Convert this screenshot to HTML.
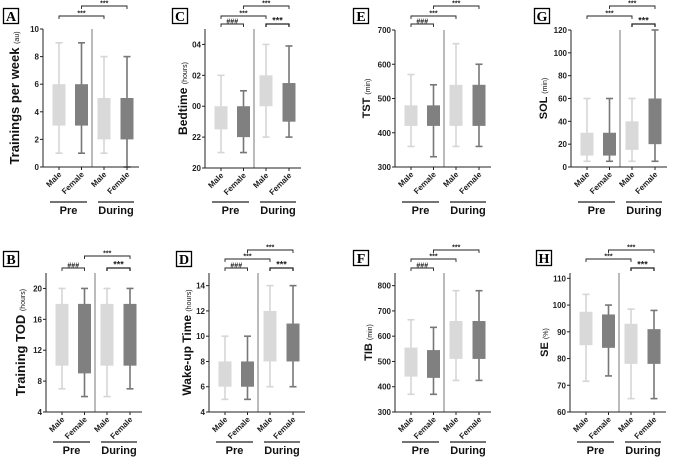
<!DOCTYPE html>
<html><head><meta charset="utf-8"><style>
html,body{margin:0;padding:0;background:#fff}
svg{display:block;font-family:"Liberation Sans",Arial,sans-serif}
</style></head><body>
<svg id="c" width="676" height="461" viewBox="0 0 676 461"></svg>
<script>
const groups = ["Male","Female","Male","Female"];
const phases = ["Pre","During"];
// [min,q1,q3,max] for each group
const A_vals = [[1,3,6,9],[1,3,6,9],[1,2,5,8],[0,2,5,8]];
const C_vals = [[1,2.5,4,6],[1,2,4,5],[2,4,6,8],[2,3,5.5,7.9]];
const E_vals = [[360,420,480,570],[330,420,480,540],[360,420,540,660],[360,420,540,600]];
const G_vals = [[5,10,30,60],[5,10,30,60],[5,15,40,60],[5,20,60,120]];
const B_vals = [[7,10,18,20],[6,9,18,20],[6,10,18,20],[7,10,18,20]];
const D_vals = [[5,6,8,10],[5,6,8,10],[6,8,12,14],[6,8,11,14]];
const F_vals = [[370,440,555,665],[370,435,545,635],[425,510,660,780],[425,510,660,780]];
const H_vals = [[71.5,85,97.5,104],[73.5,84,96.5,100],[65,78,93,98.5],[65,78,91,98]];
const A_ticks = [0,2,4,6,8,10], A_tickLabels = ["0","2","4","6","8","10"];
const C_ticks = [0,2,4,6,8], C_tickLabels = ["20","22","00","02","04"];
const E_ticks = [300,400,500,600,700], E_tickLabels = ["300","400","500","600","700"];
const G_ticks = [0,20,40,60,80,100,120], G_tickLabels = ["0","20","40","60","80","100","120"];
const B_ticks = [4,8,12,16,20], B_tickLabels = ["4","8","12","16","20"];
const D_ticks = [4,6,8,10,12,14], D_tickLabels = ["4","6","8","10","12","14"];
const F_ticks = [300,400,500,600,700,800], F_tickLabels = ["300","400","500","600","700","800"];
const H_ticks = [60,70,80,90,100,110], H_tickLabels = ["60","70","80","90","100","110"];

const panels = [
 {id:"A",vals:A_vals,ticks:A_ticks,tl:A_tickLabels,min:0,max:10,ax:43,top:29,bot:167,lx:3,ly:8,title:"Trainings per week",unit:"(au)",tx:19,fs:13,ph:35,
  br:[[0,2,16,"***",0],[1,3,6,"***",0]]},
 {id:"C",vals:C_vals,ticks:C_ticks,tl:C_tickLabels,min:0,max:9,ax:205,top:29,bot:168,lx:172,ly:8,title:"Bedtime",unit:"(hours)",tx:187,fs:12,ph:34,
  br:[[0,1,24,"###",0],[0,2,16,"***",0],[1,3,6,"***",0],[2,3,24,"***",1]]},
 {id:"E",vals:E_vals,ticks:E_ticks,tl:E_tickLabels,min:300,max:700,ax:395,top:30,bot:167,lx:353,ly:8,title:"TST",unit:"(min)",tx:370,fs:11,ph:35,
  br:[[0,1,24,"###",0],[0,2,16,"***",0],[1,3,6,"***",0]]},
 {id:"G",vals:G_vals,ticks:G_ticks,tl:G_tickLabels,min:0,max:120,ax:571,top:30,bot:167,lx:534,ly:8,title:"SOL",unit:"(min)",tx:547,fs:11,ph:35,
  br:[[0,2,16,"***",0],[1,3,6,"***",0],[2,3,24,"***",1]]},
 {id:"B",vals:B_vals,ticks:B_ticks,tl:B_tickLabels,min:4,max:22,ax:46,top:273,bot:412,lx:3,ly:251,title:"Training TOD",unit:"(hours)",tx:25,fs:13,ph:30,
  br:[[0,1,268,"###",0],[1,3,256,"***",0],[2,3,268,"***",1]]},
 {id:"D",vals:D_vals,ticks:D_ticks,tl:D_tickLabels,min:4,max:15,ax:209,top:273,bot:412,lx:176,ly:251,title:"Wake-up Time",unit:"(hours)",tx:191,fs:12,ph:30,
  br:[[0,1,268,"###",0],[0,2,259,"***",0],[1,3,250,"***",0],[2,3,268,"***",1]]},
 {id:"F",vals:F_vals,ticks:F_ticks,tl:F_tickLabels,min:300,max:850,ax:395,top:273,bot:412,lx:353,ly:250,title:"TIB",unit:"(min)",tx:372,fs:11,ph:30,
  br:[[0,1,268,"###",0],[0,2,259,"***",0],[1,3,250,"***",0]]},
 {id:"H",vals:H_vals,ticks:H_ticks,tl:H_tickLabels,min:60,max:112,ax:570,top:273,bot:412,lx:536,ly:250,title:"SE",unit:"(%)",tx:548,fs:11,ph:30,
  br:[[0,2,259,"***",0],[1,3,250,"***",0],[2,3,268,"***",1]]}
];
const offs=[16,38.5,61,84];
const NS="http://www.w3.org/2000/svg";
const svg=document.getElementById('c');
function mk(tag,at,parent,txt){const e=document.createElementNS(NS,tag);for(const k in at)e.setAttribute(k,at[k]);if(txt!==undefined)e.textContent=txt;(parent||svg).appendChild(e);return e;}

panels.forEach(p=>{
  const g=mk('g',{});
  
  
  const y=v=>p.bot-(v-p.min)/(p.max-p.min)*(p.bot-p.top);
  const x=i=>p.ax+offs[i];
  const lb=mk('rect',{x:p.lx+0.5,y:p.ly+0.5,width:15,height:15,fill:'#fff',stroke:'#000','stroke-width':1.3},g);
  
  
  const lt=mk('text',{x:p.lx+8,y:p.ly+13,'text-anchor':'middle','font-family':'Liberation Serif,serif','font-weight':'bold','font-size':14},g,p.id);
  
  
  p.vals.forEach((v,i)=>{
    const light=(i%2===0);
    const wc=light?'#d6d6d6':'#777';
    const bc=light?'#d9d9d9':'#808080';
    const cx=x(i);
    const bg=mk('g',{},g);
    
    
    mk('line',{x1:cx,x2:cx,y1:y(v[0]),y2:y(v[3]),stroke:wc,'stroke-width':1.6},bg);
    mk('line',{x1:cx-3.5,x2:cx+3.5,y1:y(v[0]),y2:y(v[0]),stroke:wc,'stroke-width':1.6},bg);
    mk('line',{x1:cx-3.5,x2:cx+3.5,y1:y(v[3]),y2:y(v[3]),stroke:wc,'stroke-width':1.6},bg);
    mk('rect',{x:cx-6.5,y:y(v[2]),width:13,height:y(v[1])-y(v[2]),fill:bc},bg);
  });
  mk('line',{x1:p.ax+49,x2:p.ax+49,y1:p.top,y2:p.bot,stroke:'#555','stroke-width':0.8},g);
  const ya=mk('line',{x1:p.ax,x2:p.ax,y1:p.top,y2:p.bot,stroke:'#222','stroke-width':1},g);
  
  
  const xa=mk('line',{x1:p.ax,x2:p.ax+96,y1:p.bot,y2:p.bot,stroke:'#222','stroke-width':1},g);
  
  
  p.ticks.forEach((t,k)=>{
    mk('line',{x1:p.ax-3,x2:p.ax,y1:y(t),y2:y(t),stroke:'#222','stroke-width':1},g);
    const tt=mk('text',{x:p.ax-4,y:y(t)+3,'text-anchor':'end','font-size':8,'font-weight':'bold',fill:'#222'},g,p.tl[k]);
    
    
  });
  for(let i=0;i<4;i++){
    mk('line',{x1:x(i),x2:x(i),y1:p.bot,y2:p.bot+3,stroke:'#222','stroke-width':1},g);
    const tx=mk('text',{x:0,y:0,'text-anchor':'end','font-size':8,'font-weight':'bold',fill:'#222',transform:`translate(${x(i)+3},${p.bot+8}) rotate(-45)`},g,groups[i]);
    
    
  }
  [[p.ax+7,p.ax+44,0],[p.ax+55,p.ax+91,1]].forEach(s=>{
    mk('line',{x1:s[0],x2:s[1],y1:p.bot+p.ph,y2:p.bot+p.ph,stroke:'#222','stroke-width':1.2},g);
    const pt=mk('text',{x:(s[0]+s[1])/2,y:p.bot+p.ph+12,'text-anchor':'middle','font-size':11,'font-weight':'bold',fill:'#111'},g,phases[s[2]]);
    
    
  });
  const cy=(p.top+p.bot)/2;
  const yt=mk('text',{x:0,y:0,'text-anchor':'middle','font-size':p.fs,'font-weight':'bold',fill:'#111',transform:`translate(${p.tx},${cy}) rotate(-90)`},g);
  
  
  mk('tspan',{},yt,p.title+' ');
  mk('tspan',{'font-size':7,'font-weight':'normal'},yt,p.unit);
  p.br.forEach(b=>{
    const x1=x(b[0]),x2=x(b[1]),yy=b[2];
    const bg=mk('g',{},g);
    
    
    mk('path',{d:`M${x1},${yy+3}V${yy}H${x2}V${yy+3}`,fill:'none',stroke:'#222','stroke-width':b[4]?1.3:0.9},bg);
    mk('text',{x:(x1+x2)/2,y:yy-0.5,'text-anchor':'middle','font-size':b[4]?9:7,'font-weight':'bold',fill:'#222'},bg,b[3]);
  });
});
</script>
</body></html>
